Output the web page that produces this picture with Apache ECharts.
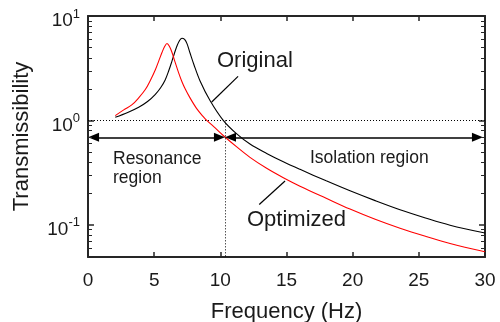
<!DOCTYPE html>
<html><head><meta charset="utf-8">
<script src="https://cdn.jsdelivr.net/npm/echarts@6/dist/echarts.min.js"></script>
<style>html,body{margin:0;padding:0;background:#fff}#c{width:500px;height:322px}</style>
</head><body><div id="c"></div>
<script>
// ---- data ----
const freqOriginal  = [2.06, 3.0, 3.83, 4.5, 5.09, 5.5, 5.84, 6.1, 6.35, 6.55, 6.73, 6.92, 7.10, 7.3, 7.48, 7.71, 8.0, 8.46, 9.22, 10.22, 11.24, 12.24, 13.5, 14.76, 16.02, 18, 19.8, 21.7, 23.58, 25.5, 27.36, 30];
const transOriginal = [1.069, 1.189, 1.334, 1.514, 1.778, 2.065, 2.455, 2.985, 3.715, 4.467, 5.188, 5.821, 6.13, 5.957, 5.433, 4.416, 3.428, 2.399, 1.549, 1.0, 0.741, 0.593, 0.482, 0.401, 0.339, 0.263, 0.211, 0.170, 0.139, 0.116, 0.0989, 0.0832];
const freqOptimized  = [2.06, 2.7, 3.33, 3.83, 4.33, 4.7, 5.09, 5.35, 5.59, 5.8, 5.97, 6.15, 6.35, 6.6, 6.85, 7.1, 7.35, 7.71, 8.2, 8.71, 8.97, 9.5, 10.22, 11.24, 12.24, 13.5, 14.76, 16.02, 18, 19.8, 21.7, 23.58, 25.5, 27.36, 30];
const transOptimized = [1.109, 1.259, 1.413, 1.641, 1.972, 2.399, 3.055, 3.715, 4.467, 5.129, 5.458, 5.129, 4.467, 3.548, 2.851, 2.344, 1.995, 1.641, 1.303, 1.084, 1.0, 0.871, 0.716, 0.556, 0.442, 0.347, 0.282, 0.234, 0.179, 0.141, 0.1125, 0.0923, 0.0773, 0.0661, 0.055];
const xMin = 0, xMax = 30, xStep = 5;
const yMin = 0.049, yMax = 10;
const yMinorTicks = [0.05, 0.06, 0.07, 0.08, 0.09, 0.2, 0.3, 0.4, 0.5, 0.6, 0.7, 0.8, 0.9, 2, 3, 4, 5, 6, 7, 8, 9];
const unityLevel = 1;
const boundaryFreq = 10.35;
const arrowLevel = 0.688;
const resonanceArrow = [0.42, 9.93];
const isolationArrow = [10.77, 29.43];
const originalLeader = [[9.35, 1.5], [11.34, 2.64]];
const optimizedLeader = [[12.94, 0.156], [14.89, 0.2625]];

const FONT = 'Liberation Sans, Arial, Helvetica, sans-serif';
const TXT = '#1a1a1a';
const AX = '#262626';

const chart = echarts.init(document.getElementById('c'), null, {renderer: 'canvas'});

function decade(v) {
  const l = Math.log10(v);
  const e = Math.round(l);
  return Math.abs(l - e) > 1e-6 ? null : e;
}
function baseFmt(v) {
  const e = decade(v);
  return e === null ? '' : '{b|10}{h|' + e + '}';
}
function expFmt(v) {
  const e = decade(v);
  return e === null ? '' : '{s|' + e + '}';
}

const axisLineStyle = {show: true, onZero: false, lineStyle: {color: AX, width: 2}};

const option = {
  animation: false,
  backgroundColor: '#fff',
  grid: {left: 88, right: 15, top: 16, bottom: 65, containLabel: false, outerBoundsMode: 'none'},
  xAxis: [
    {type: 'value', min: xMin, max: xMax, interval: xStep, position: 'bottom',
     axisLine: axisLineStyle,
     axisTick: {show: true, inside: true, length: 5, lineStyle: {color: AX, width: 1.5}},
     axisLabel: {fontSize: 19, color: TXT, fontFamily: FONT, margin: 14},
     splitLine: {show: false},
     name: 'Frequency (Hz)', nameLocation: 'middle', nameGap: 44,
     nameTextStyle: {fontSize: 22, color: TXT, fontFamily: FONT}},
    {type: 'value', min: xMin, max: xMax, interval: xStep, position: 'top',
     axisLine: axisLineStyle,
     axisTick: {show: true, inside: true, length: 5, lineStyle: {color: AX, width: 1.5}},
     axisLabel: {show: false}, splitLine: {show: false}}
  ],
  yAxis: [
    {type: 'log', logBase: 10, min: yMin, max: yMax, position: 'left',
     axisLine: axisLineStyle,
     axisTick: {show: true, inside: true, length: 6, lineStyle: {color: AX, width: 1.5}},
     axisLabel: {formatter: baseFmt, margin: 8, verticalAlign: 'top', color: TXT,
       rich: {
         b: {fontSize: 19, lineHeight: 10, fontFamily: FONT, color: TXT},
         h: {fontSize: 13, lineHeight: 10, fontFamily: FONT, color: 'rgba(0,0,0,0)'}
       }},
     splitLine: {show: false},
     name: 'Transmissibility', nameLocation: 'middle', nameGap: 55,
     nameTextStyle: {fontSize: 22, color: TXT, fontFamily: FONT}},
    {type: 'log', logBase: 10, min: yMin, max: yMax, position: 'right',
     axisLine: axisLineStyle,
     axisTick: {show: true, inside: true, length: 6, lineStyle: {color: AX, width: 1.5}},
     axisLabel: {show: false}, splitLine: {show: false}},
    {type: 'log', logBase: 10, min: yMin, max: yMax, position: 'left',
     axisLine: {show: false}, axisTick: {show: false}, splitLine: {show: false},
     axisLabel: {formatter: expFmt, margin: 8, verticalAlign: 'bottom', color: TXT,
       rich: {s: {fontSize: 13, lineHeight: 4, fontFamily: FONT, color: TXT}}}}
  ],
  series: [
    {type: 'custom', name: 'minorTicks', xAxisIndex: 0, yAxisIndex: 0, silent: true, clip: false, z: 5,
     data: yMinorTicks.map(v => [xMin, v]),
     renderItem: function (params, api) {
       const p = api.coord([api.value(0), api.value(1)]);
       const cs = params.coordSys;
       const y = Math.round(p[1]) + 0.5;
       return {type: 'group', children: [
         {type: 'line', shape: {x1: cs.x, y1: y, x2: cs.x + 4, y2: y}, style: {stroke: AX, lineWidth: 1}},
         {type: 'line', shape: {x1: cs.x + cs.width - 4, y1: y, x2: cs.x + cs.width, y2: y}, style: {stroke: AX, lineWidth: 1}}
       ]};
     }},
    {type: 'line', name: 'Original', xAxisIndex: 0, yAxisIndex: 0,
     data: freqOriginal.map((f, i) => [f, transOriginal[i]]),
     showSymbol: false, smooth: 0.35, lineStyle: {color: '#000', width: 1.1}, z: 3,
     markLine: {silent: true, symbol: 'none', label: {show: false},
       data: [
         [{coord: [xMin, unityLevel], lineStyle: {type: [1, 2], color: '#000', width: 1}}, {coord: [xMax, unityLevel]}],
         [{coord: [boundaryFreq, unityLevel], lineStyle: {type: [1, 2], color: '#000', width: 1}}, {coord: [boundaryFreq, yMin]}],
         [{coord: originalLeader[0], lineStyle: {type: 'solid', color: '#000', width: 1.2}}, {coord: originalLeader[1]}],
         [{coord: optimizedLeader[0], lineStyle: {type: 'solid', color: '#000', width: 1.2}}, {coord: optimizedLeader[1]}]
       ]}},
    {type: 'line', name: 'Optimized', xAxisIndex: 0, yAxisIndex: 0,
     data: freqOptimized.map((f, i) => [f, transOptimized[i]]),
     showSymbol: false, smooth: 0.35, lineStyle: {color: '#ff0000', width: 1.1}, z: 3,
     markLine: {silent: true, symbol: ['triangle', 'triangle'], symbolSize: [9, 11], label: {show: false},
       lineStyle: {type: 'solid', color: '#000', width: 1.5},
       data: [
         [{coord: [resonanceArrow[0], arrowLevel]}, {coord: [resonanceArrow[1], arrowLevel]}],
         [{coord: [isolationArrow[0], arrowLevel]}, {coord: [isolationArrow[1], arrowLevel]}]
       ]}}
  ],
  graphic: [
    {type: 'text', x: 217, y: 61, style: {text: 'Original', fontSize: 22, fontFamily: FONT, fill: TXT, align: 'left', verticalAlign: 'middle'}},
    {type: 'text', x: 247, y: 220, style: {text: 'Optimized', fontSize: 22, fontFamily: FONT, fill: TXT, align: 'left', verticalAlign: 'middle'}},
    {type: 'text', x: 310, y: 158.5, style: {text: 'Isolation region', fontSize: 17.5, fontFamily: FONT, fill: TXT, align: 'left', verticalAlign: 'middle'}},
    {type: 'text', x: 113, y: 159, style: {text: 'Resonance', fontSize: 17.5, fontFamily: FONT, fill: TXT, align: 'left', verticalAlign: 'middle'}},
    {type: 'text', x: 113, y: 178, style: {text: 'region', fontSize: 17.5, fontFamily: FONT, fill: TXT, align: 'left', verticalAlign: 'middle'}}
  ]
};
chart.setOption(option);
</script>
</body></html>
